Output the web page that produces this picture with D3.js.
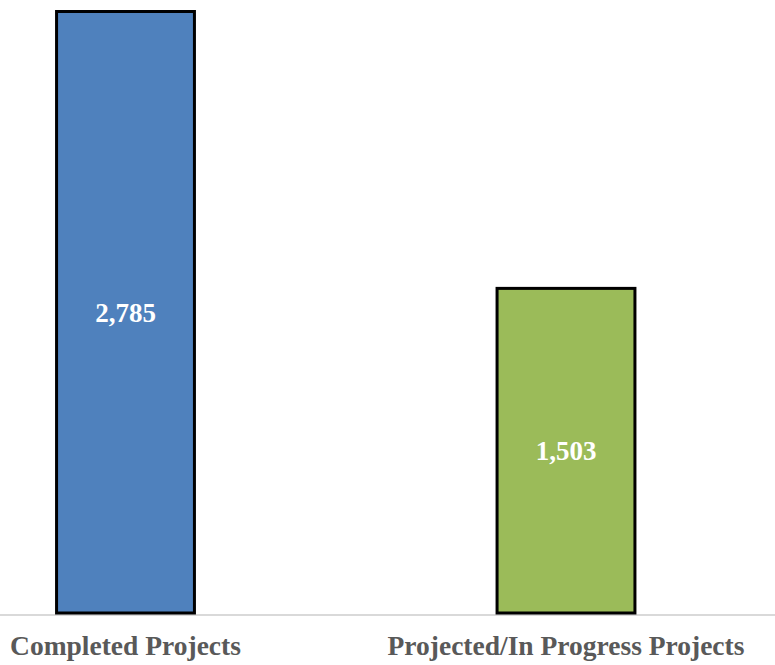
<!DOCTYPE html>
<html><head><meta charset="utf-8">
<script src="https://cdn.jsdelivr.net/npm/d3@7"></script>
<style>html,body{margin:0;padding:0;background:#fff;}</style>
</head><body>
<script>
const categories = ["Completed Projects", "Projected/In Progress Projects"];
const values = [2785, 1503];
const colors = ["#4F81BD", "#9BBB59"];

const W = 775, H = 665;
const svg = d3.select("body").append("svg").attr("width", W).attr("height", H);

const x = d3.scaleBand().domain(categories).range([-94.75, 786.25]).paddingInner(0.687).paddingOuter(0.3435);
const y = d3.scaleLinear().domain([0, 2785]).range([613, 11.5]);

// baseline
svg.append("line").attr("x1", 0).attr("x2", W).attr("y1", 615).attr("y2", 615)
  .attr("stroke", "#D9D9D9").attr("stroke-width", 2);

svg.selectAll("rect.bar").data(values).enter().append("rect")
  .attr("class", "bar")
  .attr("x", (d, i) => x(categories[i]))
  .attr("width", x.bandwidth())
  .attr("y", d => y(d))
  .attr("height", d => y(0) - y(d))
  .attr("fill", (d, i) => colors[i])
  .attr("stroke", "#000").attr("stroke-width", 3);

svg.selectAll("text.val").data(values).enter().append("text")
  .attr("x", (d, i) => x(categories[i]) + x.bandwidth() / 2)
  .attr("y", d => (y(d) + y(0)) / 2)
  .attr("dy", "0.35em")
  .attr("text-anchor", "middle")
  .attr("font-family", "'Liberation Serif', 'Times New Roman', serif")
  .attr("font-weight", "bold").attr("font-size", 27)
  .attr("fill", "#fff")
  .text(d => d3.format(",")(d));

svg.selectAll("text.cat").data(categories).enter().append("text")
  .attr("x", d => x(d) + x.bandwidth() / 2)
  .attr("y", 655)
  .attr("text-anchor", "middle")
  .attr("font-family", "'Liberation Serif', 'Times New Roman', serif")
  .attr("font-weight", "bold").attr("font-size", 27.5)
  .attr("fill", "#595959")
  .text(d => d);
</script>
</body></html>
